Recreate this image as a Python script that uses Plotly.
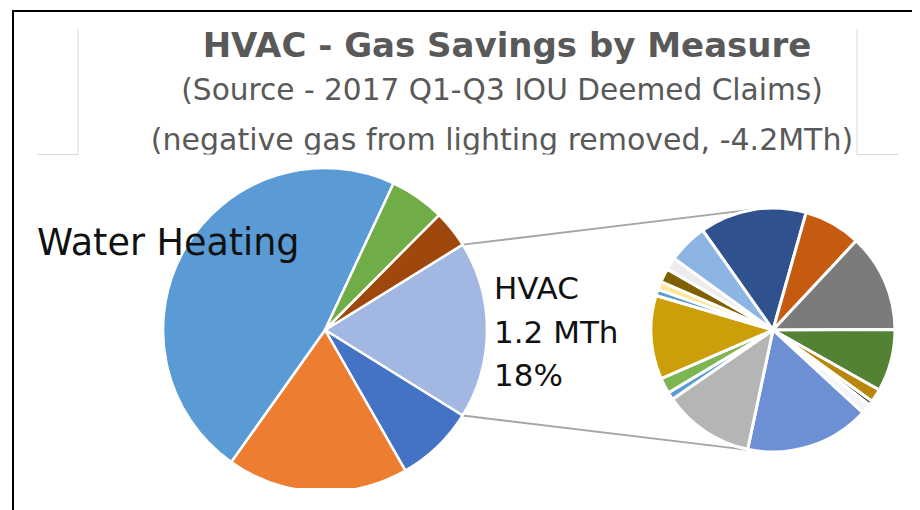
import math
import plotly.graph_objects as go

W, H = 920, 510
OFF = 8  # page body margin: page px -> figure px

# ---------------- data ----------------
main_labels = ["HVAC", "Other A", "Other B", "Water Heating", "Other C", "Other D"]
main_values = [1.20, 0.536, 1.228, 3.20, 0.372, 0.253]   # MTh
main_colors = ["#A2B8E2", "#4472C4", "#ED7D31", "#5B9BD5", "#70AD47", "#9E480E"]

hvac_labels = ["HVAC 1", "HVAC 2", "HVAC 3", "HVAC 4", "HVAC 5", "HVAC 6", "HVAC 7",
               "HVAC 8", "HVAC 9", "HVAC 10", "HVAC 11", "HVAC 12", "HVAC 13",
               "HVAC 14", "HVAC 15", "HVAC 16", "HVAC 17"]
hvac_values = [170, 91, 156, 99, 21, 7, 16, 198, 145, 12, 25, 133, 10, 13, 22, 20, 63]  # kTh
hvac_colors = ["#2F528F", "#C55A11", "#7B7B7B", "#548235", "#B8860B", "#375623", "#F3F5FA",
               "#6C90D3", "#B5B5B5", "#5B9BD5", "#7DB553", "#CC9E0A", "#5B9BD5",
               "#FFE699", "#7F6000", "#ECECEC", "#8DB5E3"]

title_text = "<b>HVAC - Gas Savings by Measure</b>"
sub1_text = "(Source - 2017 Q1-Q3 IOU Deemed Claims)"
sub2_text = "(negative gas from lighting removed, -4.2MTh)"
big_label = "Water Heating"
hvac_label_lines = ["HVAC", "1.2 MTh", "18%"]

# ---------------- layout geometry (page pixels) ----------------
MAIN_CX, MAIN_CY, MAIN_R, MAIN_ROT = 325, 330, 162, 58.2
SEC_CX, SEC_CY, SEC_R, SEC_ROT = 773, 330, 122, 324.8


def fx(x):
    return x - OFF


def fy(y):
    return y - OFF


def dom(cx, cy, r):
    cx, cy = fx(cx), fy(cy)
    return dict(x=[(cx - r) / W, (cx + r) / W], y=[1 - (cy + r) / H, 1 - (cy - r) / H])


fig = go.Figure()

# connector lines (computed from pie geometry)
tot = sum(main_values)
a0 = math.radians(MAIN_ROT)
a1 = math.radians(MAIN_ROT + 360 * main_values[0] / tot)


def on_main(a):
    return MAIN_CX + MAIN_R * math.sin(a), MAIN_CY - MAIN_R * math.cos(a)


def tangent(p, upper):
    dx, dy = p[0] - SEC_CX, p[1] - SEC_CY
    d = math.hypot(dx, dy)
    phi = math.atan2(dy, dx)
    al = math.acos(SEC_R / d)
    pts = [(SEC_CX + SEC_R * math.cos(phi + s * al), SEC_CY + SEC_R * math.sin(phi + s * al)) for s in (1, -1)]
    pts.sort(key=lambda q: q[1])
    return pts[0] if upper else pts[1]


p_up, p_lo = on_main(a0), on_main(a1)
t_up, t_lo = tangent(p_up, True), tangent(p_lo, False)
for p, t in ((p_up, t_up), (p_lo, t_lo)):
    fig.add_trace(go.Scatter(x=[fx(p[0]), fx(t[0])], y=[fy(p[1]), fy(t[1])], mode="lines",
                             line=dict(color="#A6A6A6", width=2), hoverinfo="skip",
                             showlegend=False))

fig.add_trace(go.Pie(labels=main_labels, values=main_values, sort=False, direction="clockwise",
                     rotation=MAIN_ROT, marker=dict(colors=main_colors, line=dict(color="white", width=2.5)),
                     textinfo="none", domain=dom(MAIN_CX, MAIN_CY, MAIN_R), showlegend=False))
fig.add_trace(go.Pie(labels=hvac_labels, values=hvac_values, sort=False, direction="clockwise",
                     rotation=SEC_ROT, marker=dict(colors=hvac_colors, line=dict(color="white", width=3)),
                     textinfo="none", domain=dom(SEC_CX, SEC_CY, SEC_R), showlegend=False))


def txt(x, baseline, text, size, color, pos="middle center", family="DejaVu Sans"):
    # scatter text: baseline sits 0.25*size below the point for 'middle'
    fig.add_trace(go.Scatter(x=[fx(x)], y=[fy(baseline - 0.25 * size)], mode="text", text=[text],
                             textposition=pos, cliponaxis=False, hoverinfo="skip", showlegend=False,
                             textfont=dict(family=family, size=size, color=color)))


txt(507, 57, title_text, 34, "#595959")
txt(502, 100, sub1_text, 29.6, "#595959")
txt(502, 150, sub2_text, 30, "#595959")

annotations = []


def ann(x, baseline, text, size, color):
    annotations.append(dict(x=fx(x), y=fy(baseline - 0.346 * size), xref="x", yref="y", text=text,
                            showarrow=False, xanchor="left", yanchor="middle", borderpad=0,
                            font=dict(family="DejaVu Sans", size=size, color=color)))


ann(36, 255, big_label, 36.5, "#111111")
for i, line in enumerate(hvac_label_lines):
    ann(493, 299 + 43.5 * i, line, 31, "#111111")

shapes = [
    # clip of title text box and of pie bottom
    dict(type="rect", x0=79, x1=856, y0=154.5, y1=166, fillcolor="white", line_width=0, layer="above"),
    dict(type="rect", x0=14, x1=930, y0=488, y1=530, fillcolor="white", line_width=0, layer="above"),
    # faint grey box lines
    dict(type="line", x0=78, x1=78, y0=29, y1=154.5, line=dict(color="#D9D9D9", width=1), layer="above"),
    dict(type="line", x0=37, x1=78, y0=154.5, y1=154.5, line=dict(color="#D9D9D9", width=1), layer="above"),
    dict(type="line", x0=857, x1=857, y0=29, y1=154.5, line=dict(color="#D9D9D9", width=1), layer="above"),
    dict(type="line", x0=857, x1=898, y0=154.5, y1=154.5, line=dict(color="#D9D9D9", width=1), layer="above"),
    # black frame
    dict(type="line", x0=12, x1=930, y0=11, y1=11, line=dict(color="black", width=2), layer="above"),
    dict(type="line", x0=13, x1=13, y0=10, y1=530, line=dict(color="black", width=2), layer="above"),
]
for s in shapes:
    s.update(xref="x", yref="y", x0=fx(s["x0"]), x1=fx(s["x1"]), y0=fy(s["y0"]), y1=fy(s["y1"]))

fig.update_layout(
    width=W, height=H, margin=dict(l=0, r=0, t=0, b=0),
    paper_bgcolor="white", plot_bgcolor="white", showlegend=False,
    xaxis=dict(range=[0, W], visible=False, fixedrange=True, domain=[0, 1]),
    yaxis=dict(range=[H, 0], visible=False, fixedrange=True, domain=[0, 1]),
    shapes=shapes, annotations=annotations,
)

fig.write_html("out.html")
